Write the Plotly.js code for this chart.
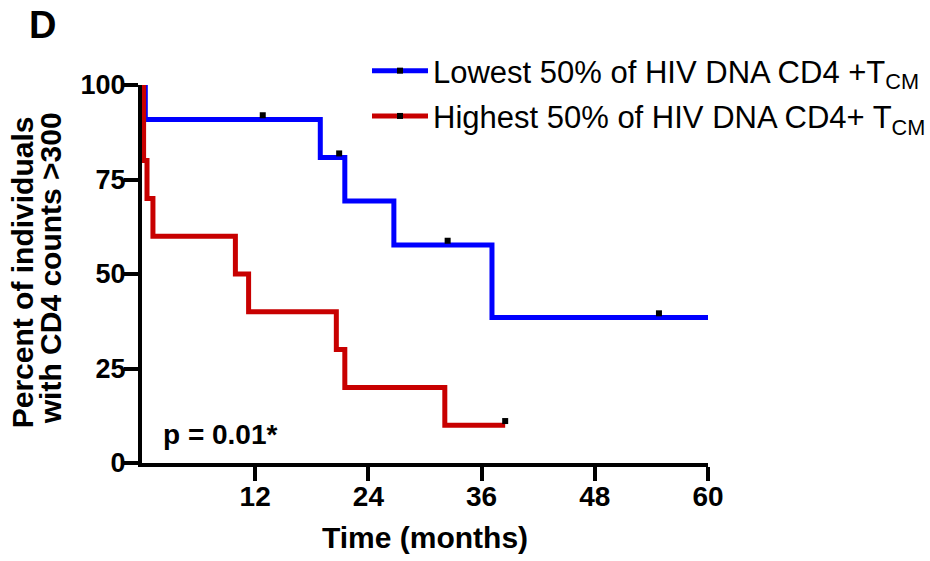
<!DOCTYPE html>
<html>
<head>
<meta charset="utf-8">
<script src="https://cdn.plot.ly/plotly-3.0.1.min.js"></script>
<style>html,body{margin:0;padding:0;background:#fff;}#chart{width:930px;height:561px;}</style>
</head>
<body>
<div id="chart"></div>
<script>
// Kaplan-Meier data (time in months, percent)
const lowName = "Lowest 50% of HIV DNA CD4 +T<sub>CM</sub>";
const lowTime = [0, 0.35, 12.8, 18.9, 20.9, 21.5, 26.7, 32.4, 37.1, 54.8, 60];
const lowPct = [100, 90.9, 90.9, 80.8, 80.8, 69.3, 57.7, 57.7, 38.5, 38.5, 38.5];
const lowCensor = [0, 0, 1, 0, 1, 0, 0, 1, 0, 1, 0];

const highName = "Highest 50% of HIV DNA CD4+ T<sub>CM</sub>";
const highTime = [0, 0.17, 0.53, 1.16, 9.9, 11.3, 20.6, 21.5, 32.1, 38.5];
const highPct = [100, 80, 70, 60, 50, 40, 30, 20, 10, 10];
const highCensor = [0, 0, 0, 0, 0, 0, 0, 0, 0, 1];

const xTicks = [12, 24, 36, 48, 60];
const yTicks = [0, 25, 50, 75, 100];
const pText = "p = 0.01*";
const panelLabel = "D";
const yTitle1 = "Percent of individuals";
const yTitle2 = "with CD4 counts >300";
const xTitle = "Time (months)";

const FONT = "Liberation Sans, Arial, Helvetica, sans-serif";
const CENSOR_LIFT = 1.1; // small visual lift so the tick sits on top of the line

function kmTraces(name, t, p, c, color, group) {
  const line = {
    type: "scatter", mode: "lines+markers", name: name,
    x: t, y: p, legendgroup: group,
    line: {shape: "hv", color: color, width: 5},
    marker: {symbol: "square", size: 6, color: "black", line: {width: 0}},
    selectedpoints: [], unselected: {marker: {opacity: 0}},
    cliponaxis: false, hoverinfo: "x+y"
  };
  const ct = [], cp = [];
  c.forEach((f, i) => { if (f) { ct.push(t[i]); cp.push(p[i] + CENSOR_LIFT); } });
  const marks = {
    type: "scatter", mode: "markers", name: name + " (censored)",
    x: ct, y: cp, legendgroup: group, showlegend: false,
    marker: {symbol: "square", size: 6, color: "black", line: {width: 0}},
    cliponaxis: false, hoverinfo: "x"
  };
  return [line, marks];
}

const data = [
  ...kmTraces(lowName, lowTime, lowPct, lowCensor, "#0000ff", "a"),
  ...kmTraces(highName, highTime, highPct, highCensor, "#c80000", "b")
];

const L = 141.7, R = 708.3, T = 85, B = 463.3;
const W = R - L, H = B - T;
const px = v => (v - L) / W;
const py = v => (B - v) / H;

const layout = {
  width: 930, height: 561,
  margin: {l: L, r: 930 - R, t: T, b: 561 - B, pad: 0, autoexpand: false},
  paper_bgcolor: "#fff", plot_bgcolor: "#fff",
  font: {family: FONT, color: "#000"},
  showlegend: true,
  legend: {
    xref: "container", yref: "container",
    x: 367 / 930, y: 1 - 44 / 561, xanchor: "left", yanchor: "top",
    font: {family: FONT, size: 31, color: "#000"},
    bgcolor: "rgba(0,0,0,0)", borderwidth: 0,
    itemwidth: 56,
    traceorder: "grouped", tracegroupgap: 2
  },
  xaxis: {
    range: [0, 60], tickvals: xTicks, ticktext: xTicks.map(String),
    showgrid: false, zeroline: false, showline: true, linecolor: "#000", linewidth: 4,
    ticks: "outside", ticklen: 14, tickwidth: 4, tickcolor: "#000",
    ticklabelstandoff: -9,
    tickfont: {family: FONT, size: 28, weight: "bold", color: "#000"},
    title: {text: xTitle, font: {family: FONT, size: 30, weight: "bold", color: "#000"}, standoff: 17},
    fixedrange: true, automargin: false
  },
  yaxis: {
    range: [0, 100], tickvals: yTicks, ticktext: yTicks.map(String),
    showgrid: false, zeroline: false, showline: true, linecolor: "#000", linewidth: 4,
    ticks: "outside", ticklen: 14, tickwidth: 4, tickcolor: "#000",
    ticklabelstandoff: -7,
    tickfont: {family: FONT, size: 27, weight: "bold", color: "#000"},
    fixedrange: true, automargin: false
  },
  annotations: [
    {text: panelLabel, xref: "paper", yref: "paper", x: px(27), y: py(25), xanchor: "left", yanchor: "middle",
     showarrow: false, font: {family: FONT, size: 38, weight: "bold", color: "#000"}},
    {text: yTitle1, xref: "paper", yref: "paper", x: px(22), y: py(272), xanchor: "center", yanchor: "middle",
     textangle: -90, showarrow: false, font: {family: FONT, size: 30, weight: "bold", color: "#000"}},
    {text: yTitle2, xref: "paper", yref: "paper", x: px(50), y: py(268), xanchor: "center", yanchor: "middle",
     textangle: -90, showarrow: false, font: {family: FONT, size: 30, weight: "bold", color: "#000"}},
    {text: pText, xref: "x", yref: "y", x: 2.0, y: 7.5, xanchor: "left", yanchor: "middle",
     showarrow: false, font: {family: FONT, size: 28, weight: "bold", color: "#000"}}
  ]
};

Plotly.newPlot("chart", data, layout, {displayModeBar: false, staticPlot: true});
</script>
</body>
</html>
